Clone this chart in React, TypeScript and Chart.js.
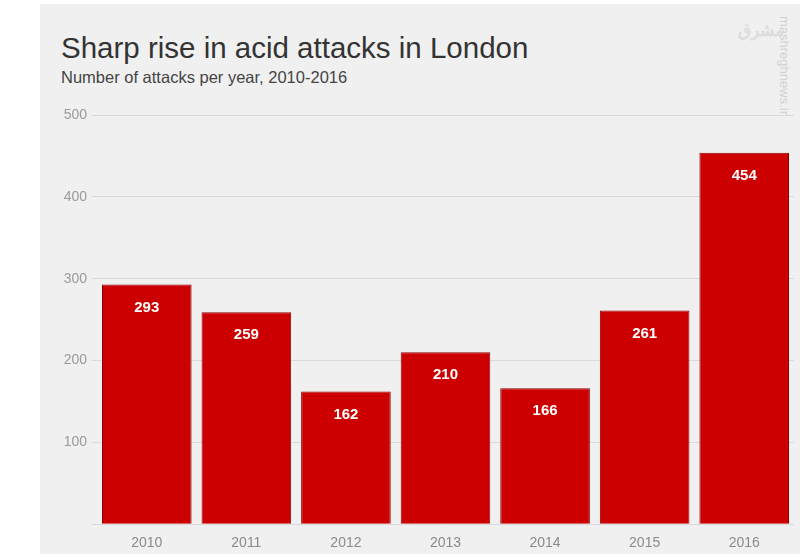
import { useEffect, useRef } from "react";
import Chart from "chart.js/auto";

const years = ["2010", "2011", "2012", "2013", "2014", "2015", "2016"];
const attacks = [293, 259, 162, 210, 166, 261, 454];
const yTicks = [0, 100, 200, 300, 400, 500];

const FONT = "'Liberation Sans', Arial, sans-serif";

// writes each bar's value in white just under its top
const valueLabels = {
	id: "valueLabels",
	afterDatasetsDraw(chart: Chart) {
		const ctx = chart.ctx;
		const meta = chart.getDatasetMeta(0);
		ctx.save();
		ctx.fillStyle = "#ffffff";
		ctx.font = `bold 15px ${FONT}`;
		ctx.textAlign = "center";
		ctx.textBaseline = "middle";
		meta.data.forEach((bar: any, i: number) => {
			ctx.fillText(String(attacks[i]), bar.x, bar.y + 23);
		});
		ctx.restore();
	},
};

export default function App() {
	const chartRef = useRef<HTMLCanvasElement>(null);
	const chartInstance = useRef<Chart | null>(null);

	useEffect(() => {
		if (!chartRef.current) return;
		if (chartInstance.current) chartInstance.current.destroy();

		chartInstance.current = new Chart(chartRef.current, {
			type: "bar",
			data: {
				labels: years,
				datasets: [
					{
						data: attacks,
						backgroundColor: "#cc0000",
						borderColor: "#8a0000",
						borderWidth: 1,
						barPercentage: 0.9,
						categoryPercentage: 1,
					},
				],
			},
			options: {
				responsive: false,
				animation: false,
				layout: { padding: { top: 15, right: 6, bottom: 0, left: 0 } },
				plugins: {
					legend: { display: false },
					tooltip: { enabled: false },
				},
				scales: {
					x: {
						grid: { display: false },
						border: { display: false },
						ticks: {
							color: "#8a8a8a",
							font: { family: FONT, size: 14 },
							padding: 3,
						},
					},
					y: {
						min: yTicks[0],
						max: yTicks[yTicks.length - 1],
						afterFit(scale: any) {
							scale.width = 57;
						},
						afterBuildTicks(scale: any) {
							scale.ticks = yTicks.map((v) => ({ value: v }));
						},
						grid: {
							color: "#d9d9d9",
							lineWidth: 1,
							tickLength: 5,
						},
						border: { display: false },
						ticks: {
							color: "#9a9a9a",
							font: { family: FONT, size: 14 },
							padding: 5,
							callback: (v: any) => (v === 0 ? "" : String(v)),
						},
					},
				},
			},
			plugins: [valueLabels],
		});

		return () => {
			if (chartInstance.current) {
				chartInstance.current.destroy();
				chartInstance.current = null;
			}
		};
	}, []);

	return (
		<div
			style={{
				position: "fixed",
				left: 0,
				top: 0,
				width: 800,
				height: 557,
				background: "#ffffff",
				fontFamily: FONT,
			}}
		>
			<div
				style={{
					position: "absolute",
					left: 40,
					top: 4,
					width: 760,
					height: 550,
					background: "#f0f0f0",
				}}
			>
				<div
					style={{
						position: "absolute",
						left: 21,
						top: 27,
						fontSize: 29.5,
						color: "#333333",
						whiteSpace: "nowrap",
					}}
				>
					Sharp rise in acid attacks in London
				</div>
				<div
					style={{
						position: "absolute",
						left: 21,
						top: 64,
						fontSize: 16.5,
						color: "#444444",
						whiteSpace: "nowrap",
					}}
				>
					Number of attacks per year, 2010-2016
				</div>
				<div
					style={{
						position: "absolute",
						left: 737,
						top: 12,
						writingMode: "vertical-rl",
						fontSize: 13,
						color: "#d2d2d2",
						whiteSpace: "nowrap",
					}}
				>
					mashreghnews.ir
				</div>
				<div
					style={{
						position: "absolute",
						left: 698,
						top: 16,
						fontSize: 17,
						fontWeight: "bold",
						color: "#dcdcdc",
					}}
				>
					مشرق
				</div>
				<canvas
					ref={chartRef}
					width={760}
					height={455}
					style={{ position: "absolute", left: 0, top: 96 }}
				></canvas>
			</div>
		</div>
	);
}
